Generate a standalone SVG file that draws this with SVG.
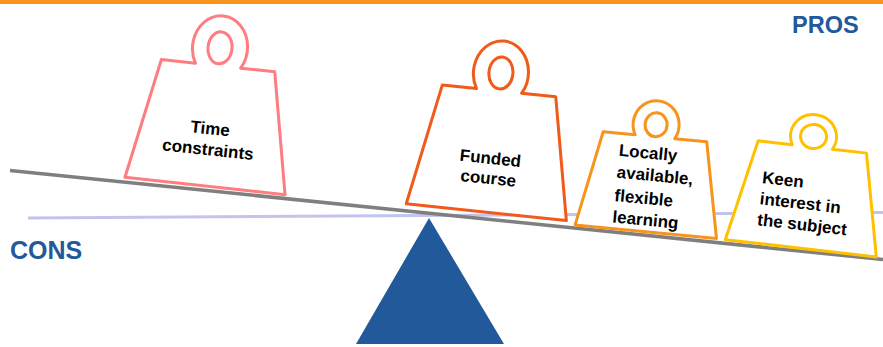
<svg xmlns="http://www.w3.org/2000/svg" width="883" height="347" viewBox="0 0 883 347">
<style>
.wt{fill:#fff;stroke-width:3;stroke-linejoin:round}
.hole{fill:#fff;stroke-width:3}
.lbl{font-family:"Liberation Sans",Arial,sans-serif;font-weight:bold;font-size:17px;fill:#000}
.side{font-family:"Liberation Sans",Arial,sans-serif;font-weight:bold;fill:#22599A}
</style>
<rect x="0" y="0" width="883" height="4" fill="#F7941D"/>
<text class="side" x="792" y="33" font-size="23.5">PROS</text>
<text class="side" x="10" y="259" font-size="25">CONS</text>
<g id="connectors">
<line x1="28" y1="218" x2="883" y2="212.5" stroke="#C3C3F0" stroke-width="3"/>
<line x1="10" y1="170.5" x2="883" y2="259.5" stroke="#7F7F7F" stroke-width="3.5"/>
</g>
<g id="fulcrum">
<polygon points="429,218 356,344 504,344" fill="#22599A"/>
</g>
<g id="w1" transform="translate(205 186) rotate(6.2)">
<path class="wt" stroke="#FF7C80" d="M-57,-121 L-22.7,-121 A27.5 32 0 1 1 22.7,-121 L57,-121 L80.5,0 L-80.5,0 Z"/>
<ellipse class="hole" stroke="#FF7C80" cx="0" cy="-139" rx="12" ry="16"/>
<text class="lbl" x="-1" y="-52" text-anchor="middle">Time</text>
<text class="lbl" x="-1" y="-31" text-anchor="middle">constraints</text>
</g>
<g id="w2" transform="translate(486.3 212.2) rotate(6)">
<path class="wt" stroke="#F05A1A" d="M-57,-122 L-22.7,-122 A27.5 32 0 1 1 22.7,-122 L57,-122 L80.5,0 L-80.5,0 Z"/>
<ellipse class="hole" stroke="#F05A1A" cx="0" cy="-140" rx="12" ry="16"/>
<text class="lbl" x="-1.5" y="-48.4" text-anchor="middle">Funded</text>
<text class="lbl" x="-1.5" y="-28.4" text-anchor="middle">course</text>
</g>
<g id="w3" transform="translate(645.8 231.7) rotate(5.5)">
<path class="wt" stroke="#F7941D" d="M-52,-95.4 L-19.9,-95.4 A23 24 0 1 1 19.9,-95.4 L52,-95.4 L71,0 L-71,0 Z"/>
<ellipse class="hole" stroke="#F7941D" cx="0" cy="-107.4" rx="11" ry="12"/>
<text class="lbl" x="-34.5" y="-73">Locally</text>
<text class="lbl" x="-34.5" y="-51">available,</text>
<text class="lbl" x="-34.5" y="-27.5">flexible</text>
<text class="lbl" x="-34.5" y="-6">learning</text>
</g>
<g id="w4" transform="translate(800.8 248.3) rotate(6.5)">
<path class="wt" stroke="#FFC000" d="M-54.5,-102 L-20.2,-102 A23 22 0 1 1 20.2,-102 L54.5,-102 L76,0 L-76,0 Z"/>
<ellipse class="hole" stroke="#FFC000" cx="0" cy="-112.5" rx="13" ry="12"/>
<text class="lbl" x="-46.3" y="-60.5" font-size="17.5">Keen</text>
<text class="lbl" x="-46.3" y="-39.2" font-size="17.5">interest in</text>
<text class="lbl" x="-46.3" y="-18" font-size="17.5">the subject</text>
</g>
</svg>
